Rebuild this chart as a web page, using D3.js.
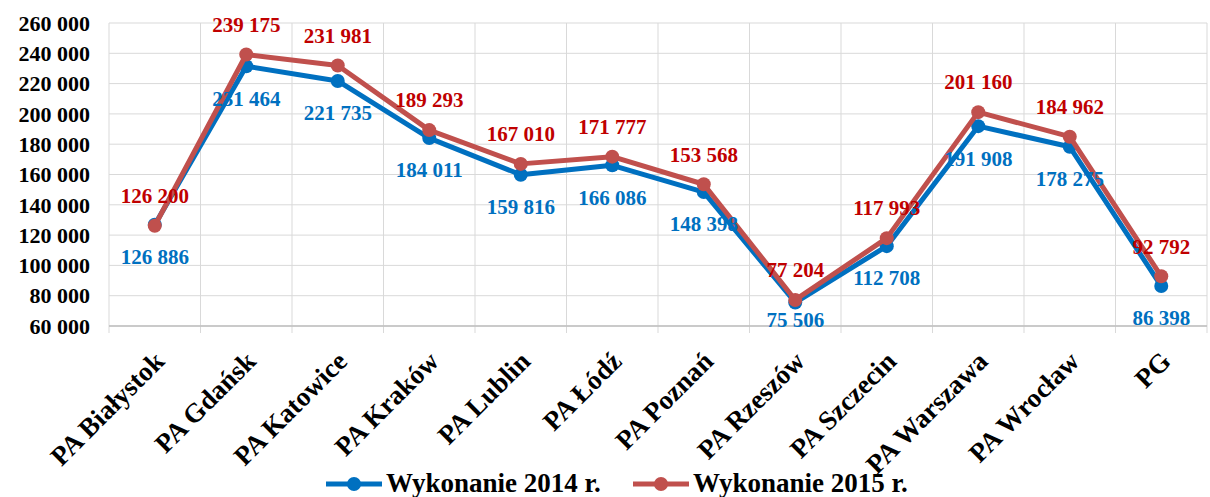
<!DOCTYPE html>
<html>
<head>
<meta charset="utf-8">
<script src="https://cdnjs.cloudflare.com/ajax/libs/d3/7.8.5/d3.min.js"></script>
<style>
  body { margin: 0; background: #fff; }
  svg { display: block; font-family: "Liberation Serif", "Times New Roman", serif; font-weight: bold; }
</style>
</head>
<body>
<svg id="chart" width="1210" height="497"></svg>
<script>
const categories = ['PA Białystok','PA Gdańsk','PA Katowice','PA Kraków','PA Lublin','PA Łódź','PA Poznań','PA Rzeszów','PA Szczecin','PA Warszawa','PA Wrocław','PG'];
const values2014 = [126886,231464,221735,184011,159816,166086,148398,75506,112708,191908,178275,86398];
const values2015 = [126200,239175,231981,189293,167010,171777,153568,77204,117993,201160,184962,92792];
const yTicks = [60000,80000,100000,120000,140000,160000,180000,200000,220000,240000,260000];
const seriesNames = ['Wykonanie 2014 r.','Wykonanie 2015 r.'];

const plotLeft = 109, plotRight = 1207, plotTop = 23, plotBottom = 326;

const fmt = v => d3.format(',')(v).replace(/,/g, ' ');

const svg = d3.select('#chart');

const xScale = d3.scaleBand()
  .domain(categories)
  .range([plotLeft, plotRight])
  .padding(0);

const yScale = d3.scaleLinear()
  .domain([60000, 260000])
  .range([plotBottom, plotTop]);

const cx = c => xScale(c) + xScale.bandwidth() / 2;

// horizontal grid
svg.append('g')
  .selectAll('line')
  .data(yTicks)
  .join('line')
    .attr('x1', plotLeft).attr('x2', plotRight)
    .attr('y1', d => yScale(d)).attr('y2', d => yScale(d))
    .attr('stroke', '#d9d9d9').attr('stroke-width', 1);

// vertical grid between categories (also the tick marks below the axis)
const bounds = categories.map(c => xScale(c)).concat([plotRight]);
svg.append('g')
  .selectAll('line')
  .data(bounds)
  .join('line')
    .attr('x1', d => d).attr('x2', d => d)
    .attr('y1', plotTop).attr('y2', plotBottom + 7)
    .attr('stroke', '#d9d9d9').attr('stroke-width', 1);

// x axis line
svg.append('line')
  .attr('x1', plotLeft).attr('x2', plotRight)
  .attr('y1', plotBottom).attr('y2', plotBottom)
  .attr('stroke', '#bfbfbf').attr('stroke-width', 1.5);

// y tick labels
svg.append('g')
  .selectAll('text')
  .data(yTicks)
  .join('text')
    .attr('x', 90)
    .attr('y', d => yScale(d))
    .attr('dy', '0.35em')
    .attr('text-anchor', 'end')
    .attr('font-size', 22)
    .attr('fill', '#000')
    .text(fmt);

// x labels rotated
svg.append('g')
  .selectAll('text')
  .data(categories)
  .join('text')
    .attr('text-anchor', 'end')
    .attr('transform', d => `translate(${cx(d) + 11},${plotBottom + 37}) rotate(-45)`)
    .attr('font-size', 27)
    .attr('fill', '#000')
    .text(d => d);

const series = [
  {values: values2014, line: '#0070C0', label: '#0070C0', dy: 32},
  {values: values2015, line: '#C0504D', label: '#C00000', dy: -30}
];

const line = d3.line()
  .x((v, i) => cx(categories[i]))
  .y(v => yScale(v));

series.forEach(s => {
  svg.append('path')
    .datum(s.values)
    .attr('fill', 'none')
    .attr('stroke', s.line)
    .attr('stroke-width', 5)
    .attr('stroke-linejoin', 'round')
    .attr('d', line);

  svg.append('g')
    .selectAll('circle')
    .data(s.values)
    .join('circle')
      .attr('cx', (v, i) => cx(categories[i]))
      .attr('cy', v => yScale(v))
      .attr('r', 7)
      .attr('fill', s.line);
});

// data labels, kept above the axis line
series.forEach(s => {
  svg.append('g')
    .selectAll('text')
    .data(s.values)
    .join('text')
      .attr('x', (v, i) => cx(categories[i]))
      .attr('y', v => Math.min(yScale(v) + s.dy, plotBottom - 6))
      .attr('dy', '0.35em')
      .attr('text-anchor', 'middle')
      .attr('font-size', 21)
      .attr('fill', s.label)
      .text(fmt);
});

// legend
const legendItems = [
  {name: seriesNames[0], color: '#0070C0', x: 326},
  {name: seriesNames[1], color: '#C0504D', x: 633}
];
const legend = svg.append('g');
legendItems.forEach(l => {
  legend.append('line')
    .attr('x1', l.x).attr('x2', l.x + 56)
    .attr('y1', 484).attr('y2', 484)
    .attr('stroke', l.color).attr('stroke-width', 5);
  legend.append('circle')
    .attr('cx', l.x + 28).attr('cy', 484).attr('r', 7)
    .attr('fill', l.color);
  legend.append('text')
    .attr('x', l.x + 60).attr('y', 492)
    .attr('font-size', 27)
    .attr('fill', '#000')
    .text(l.name);
});
</script>
</body>
</html>
